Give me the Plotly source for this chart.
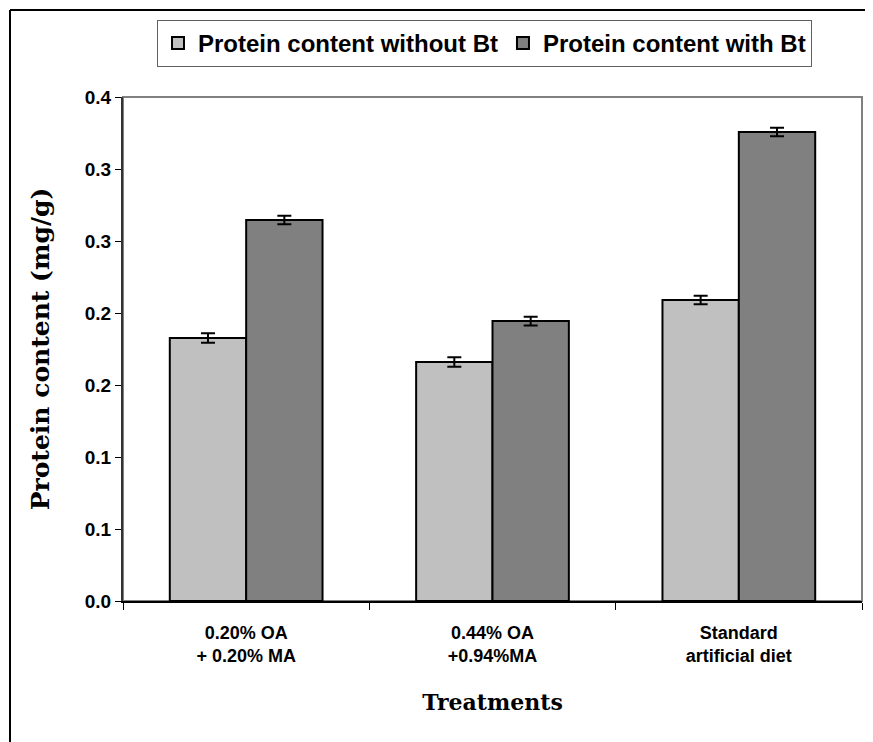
import plotly.graph_objects as go

categories = ["0.20% OA<br>+ 0.20% MA", "0.44% OA<br>+0.94%MA", "Standard<br>artificial diet"]
without_bt = [0.1826, 0.1660, 0.2090]
without_bt_err = [0.0033, 0.0033, 0.0030]
with_bt = [0.2646, 0.1944, 0.3257]
with_bt_err = [0.0030, 0.0030, 0.0030]
y_tickvals = [0, 0.05, 0.10, 0.15, 0.20, 0.25, 0.30, 0.35]
y_ticktext = ["0.0", "0.1", "0.1", "0.2", "0.2", "0.3", "0.3", "0.4"]

SANS = "Liberation Sans, Arial, sans-serif"
SERIF = "DejaVu Serif, serif"

fig = go.Figure()
fig.add_trace(go.Bar(
    x=categories, y=without_bt, name="Protein content without Bt",
    marker=dict(color="#c0c0c0", line=dict(color="black", width=2)),
    error_y=dict(type="data", array=without_bt_err, color="black", thickness=2, width=7),
))
fig.add_trace(go.Bar(
    x=categories, y=with_bt, name="Protein content with Bt",
    marker=dict(color="#808080", line=dict(color="black", width=2)),
    error_y=dict(type="data", array=with_bt_err, color="black", thickness=2, width=7),
))

# page body has an 8px margin; work in screen pixels and offset
OFF = 8
W, H = 873 - OFF, 742 - OFF
L, R, T, B = 123 - OFF, 11, 97 - OFF, 141
pw, ph = W - L - R, H - T - B

def px(x):
    return (x - OFF - L) / pw

def py(y):
    return (H - B - (y - OFF)) / ph

fig.update_layout(
    width=W, height=H,
    margin=dict(l=L, r=R, t=T, b=B),
    paper_bgcolor="white", plot_bgcolor="white",
    barmode="group", bargap=0.38, bargroupgap=0,
    font=dict(family=SANS, color="black"),
    showlegend=True,
    legend=dict(
        orientation="h", x=px(157), y=py(20), xanchor="left", yanchor="top",
        bordercolor="#606060", borderwidth=1, bgcolor="white",
        font=dict(family=SANS, size=24, color="black", weight="bold"),
        traceorder="normal", itemwidth=30, tracegroupgap=0,
    ),
    xaxis=dict(
        showline=True, linecolor="black", linewidth=2,
        ticks="outside", tickson="boundaries", ticklen=7, tickcolor="black",
        ticklabelstandoff=14,
        tickfont=dict(family=SANS, size=18, color="black", weight="bold"),
        title=dict(text="Treatments", font=dict(family=SERIF, size=22, color="black", weight="bold"), standoff=30),
        showgrid=False,
    ),
    yaxis=dict(
        range=[0, 0.35], tickvals=y_tickvals, ticktext=y_ticktext,
        showline=True, linecolor="#333333", linewidth=2,
        ticks="outside", ticklen=6, tickcolor="black",
        tickfont=dict(family=SANS, size=19, color="black", weight="bold"),
        title=dict(text="Protein content (mg/g)", font=dict(family=SERIF, size=25, color="black", weight="bold"), standoff=28),
        showgrid=False, zeroline=False,
    ),
    shapes=[
        dict(type="rect", xref="paper", yref="paper", x0=0, y0=0, x1=1, y1=1,
             line=dict(color="#808080", width=2), layer="below"),
        dict(type="line", xref="paper", yref="paper", x0=px(10), y0=py(10), x1=px(880), y1=py(10),
             line=dict(color="black", width=2)),
        dict(type="line", xref="paper", yref="paper", x0=px(10), y0=py(10), x1=px(10), y1=py(750),
             line=dict(color="black", width=2)),
    ],
)

fig.write_html("out.html")
